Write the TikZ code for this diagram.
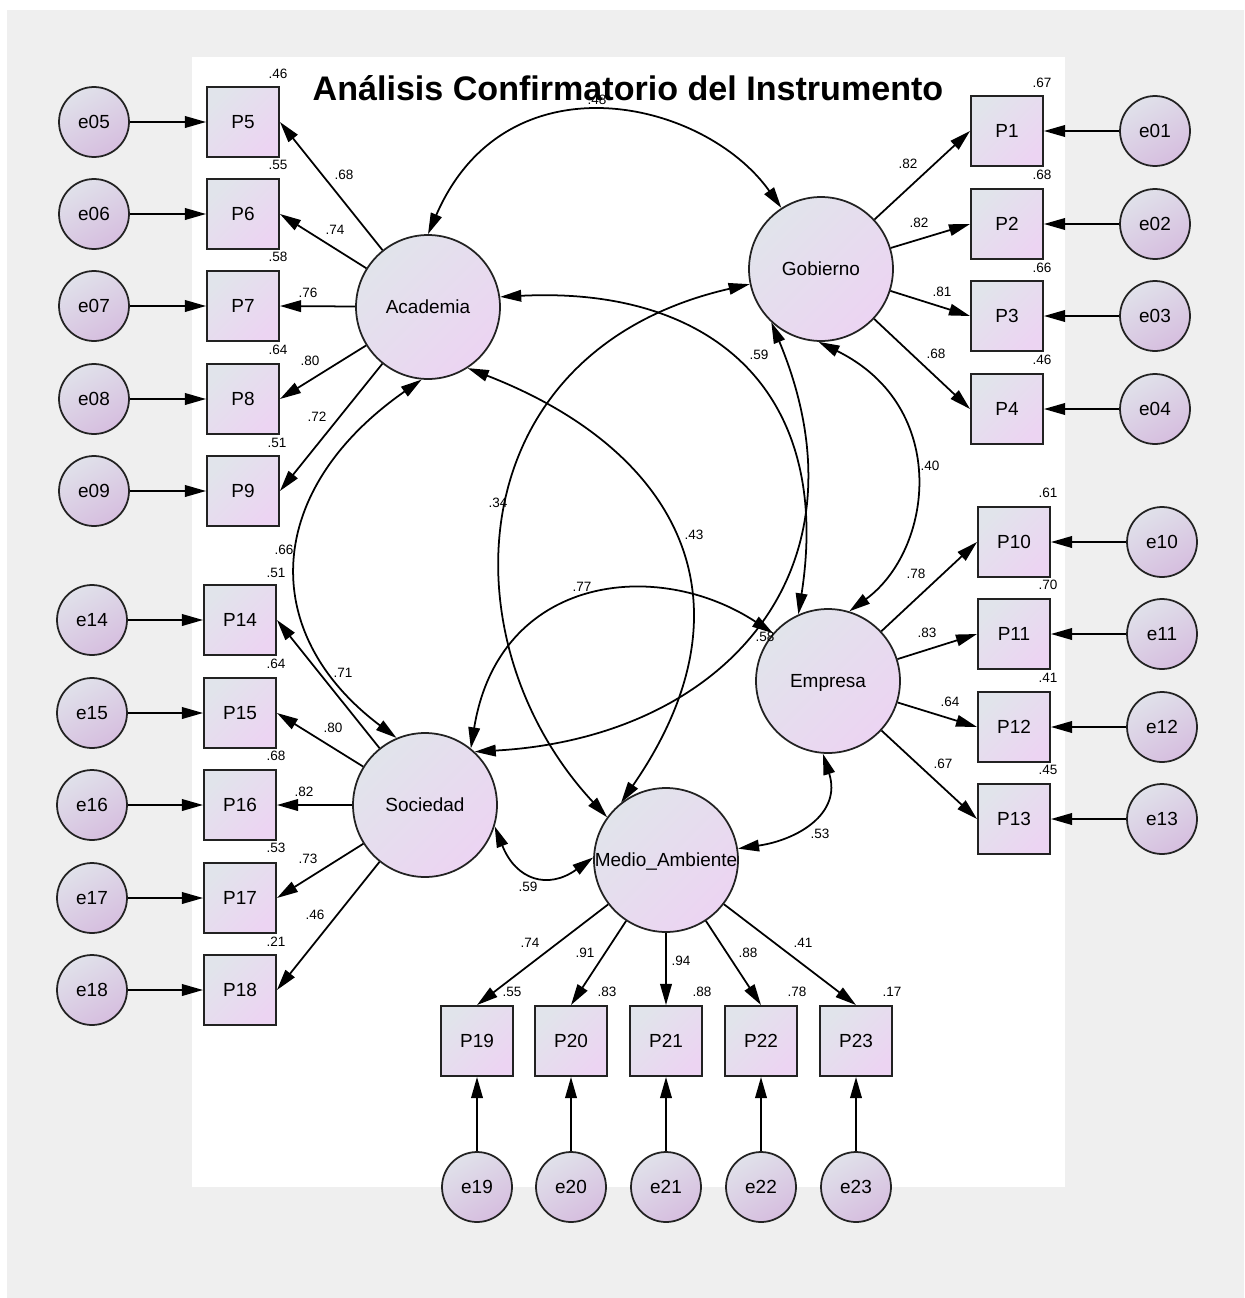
\documentclass[tikz,border=0pt]{standalone}
\usepackage{fontspec}
\setmainfont{Liberation Sans}
\usetikzlibrary{arrows.meta}

\definecolor{panelgray}{HTML}{EFEFEF}
\definecolor{fillA}{HTML}{E1E4EB}
\definecolor{fillB}{HTML}{ECD4F2}
\definecolor{errA}{HTML}{E0E1EA}
\definecolor{errB}{HTML}{D6BEDF}
\definecolor{edge}{HTML}{222222}

\begin{document}
\begin{tikzpicture}[x=0.02cm, y=-0.02cm,
  txt/.style={font=\fontsize{10.8}{12}\selectfont, text height=7.7pt, text depth=0pt, inner sep=0pt},
  obs/.style={txt, rectangle, draw=edge, line width=1.1pt, minimum width=1.44cm, minimum height=1.4cm,
              top color=fillA, bottom color=fillB, shading angle=45},
  lat/.style={txt, circle, draw=edge, line width=1pt, minimum size=2.88cm,
              top color=fillA, bottom color=fillB, shading angle=45},
  err/.style={txt, circle, draw=edge, line width=1pt, minimum size=1.4cm,
              top color=errA, bottom color=errB, shading angle=30},
  num/.style={font=\fontsize{7.7}{9}\selectfont, text height=5.5pt, text depth=0pt, inner sep=0pt},
  load/.style={draw=black, line width=1pt, -{Triangle[length=12pt, width=6.6pt]}},
  cov/.style={draw=black, line width=1pt, {Triangle[length=12pt, width=6.6pt]}-{Triangle[length=12pt, width=6.6pt]}}
]
\useasboundingbox (0,0) rectangle (1244,1298);
\fill[white] (0,0) rectangle (1244,1298);
\fill[panelgray] (7,10) rectangle (1244,1298);
\fill[white] (192,57) rectangle (1065,1187);

% observed indicators and their error terms
\foreach \n/\y in {5/122,6/214,7/306,8/399,9/491}{
  \node[obs] (P\n) at (243,\y) {P\n};
  \node[err] (e0\n) at (94,\y) {e0\n};
}
\foreach \n/\y in {14/620,15/713,16/805,17/898,18/990}{
  \node[obs] (P\n) at (240,\y) {P\n};
  \node[err] (e\n) at (92,\y) {e\n};
}
\foreach \n/\y in {1/131,2/224,3/316,4/409}{
  \node[obs] (P\n) at (1007,\y) {P\n};
  \node[err] (e0\n) at (1155,\y) {e0\n};
}
\foreach \n/\y in {10/542,11/634,12/727,13/819}{
  \node[obs] (P\n) at (1014,\y) {P\n};
  \node[err] (e\n) at (1162,\y) {e\n};
}
\foreach \n/\x in {19/477,20/571,21/666,22/761,23/856}{
  \node[obs] (P\n) at (\x,1041) {P\n};
  \node[err] (e\n) at (\x,1187) {e\n};
}

% latent factors
\node[lat] (Aca) at (428,307) {Academia};
\node[lat] (Gob) at (821,269) {Gobierno};
\node[lat] (Emp) at (828,681) {Empresa};
\node[lat] (Soc) at (425,805) {Sociedad};
\node[lat] (Med) at (666,860) {Medio\_Ambiente};

% factor loadings
\foreach \p in {5,...,9} \draw[load] (Aca) -- (P\p.east);
\foreach \p in {1,...,4} \draw[load] (Gob) -- (P\p.west);
\foreach \p in {10,...,13} \draw[load] (Emp) -- (P\p.west);
\foreach \p in {14,...,18} \draw[load] (Soc) -- (P\p.east);
\foreach \p in {19,...,23} \draw[load] (Med) -- (P\p.north);

% error terms
\foreach \e/\p in {e05/P5,e06/P6,e07/P7,e08/P8,e09/P9,
                   e14/P14,e15/P15,e16/P16,e17/P17,e18/P18,
                   e01/P1,e02/P2,e03/P3,e04/P4,
                   e10/P10,e11/P11,e12/P12,e13/P13,
                   e19/P19,e20/P20,e21/P21,e22/P22,e23/P23}
  \draw[load] (\e) -- (\p);

% factor covariances
\draw[cov] (Aca.90)  .. controls (506,54)  and (704,99)  .. (Gob.123);
\draw[cov] (Aca.265) .. controls (265,489) and (256,632) .. (Soc.113);
\draw[cov] (Aca.-57) .. controls (676,449) and (761,600) .. (Med.128);
\draw[cov] (Gob.192) .. controls (457,351) and (444,642) .. (Med.144);
\draw[cov] (Aca.8)   .. controls (713,286) and (833,392) .. (Emp.114);
\draw[cov] (Gob.227) .. controls (875,571) and (723,738) .. (Soc.47);
\draw[cov] (Emp.139) .. controls (657,557) and (499,575) .. (Soc.51);
\draw[cov] (Gob.268) .. controls (951,407) and (933,550) .. (Emp.73);
\draw[cov] (Emp.266) .. controls (842,814) and (797,840) .. (Med.9);
\draw[cov] (Soc.-17) .. controls (516,880) and (548,890) .. (Med.178);

% estimates
\foreach \x/\y/\v [count=\i] in {
  344/175/.68, 335/230/.74, 308/293/.76, 310/361/.80, 317/417/.72,
  908/164/.82, 919/223/.82, 942/292/.81, 936/354/.68,
  916/574/.78, 927/633/.83, 950/702/.64, 943/764/.67,
  343/673/.71, 333/728/.80, 304/792/.82, 308/859/.73, 315/915/.46,
  530/943/.74, 585/953/.91, 681/961/.94, 748/953/.88, 803/943/.41,
  278/74/.46, 278/165/.55, 278/257/.58, 278/350/.64, 277/443/.51,
  276/573/.51, 276/664/.64, 276/756/.68, 276/848/.53, 276/942/.21,
  1042/83/.67, 1042/175/.68, 1042/268/.66, 1042/360/.46,
  1048/493/.61, 1048/585/.70, 1048/678/.41, 1048/770/.45,
  512/992/.55, 607/992/.83, 702/992/.88, 797/992/.78, 892/992/.17,
  597/100/.48, 284/550/.66, 498/503/.34, 694/535/.43, 759/355/.59,
  930/466/.40, 582/587/.77, 765/637/.58, 820/834/.53, 528/887/.59}
  \node[num] (est\i) at (\x,\y) {\v};

% title
\node[font=\bfseries\fontsize{19.4}{22}\selectfont, anchor=base, inner sep=0pt] (title) at (628,100)
  {Análisis Confirmatorio del Instrumento};
\end{tikzpicture}
\end{document}
